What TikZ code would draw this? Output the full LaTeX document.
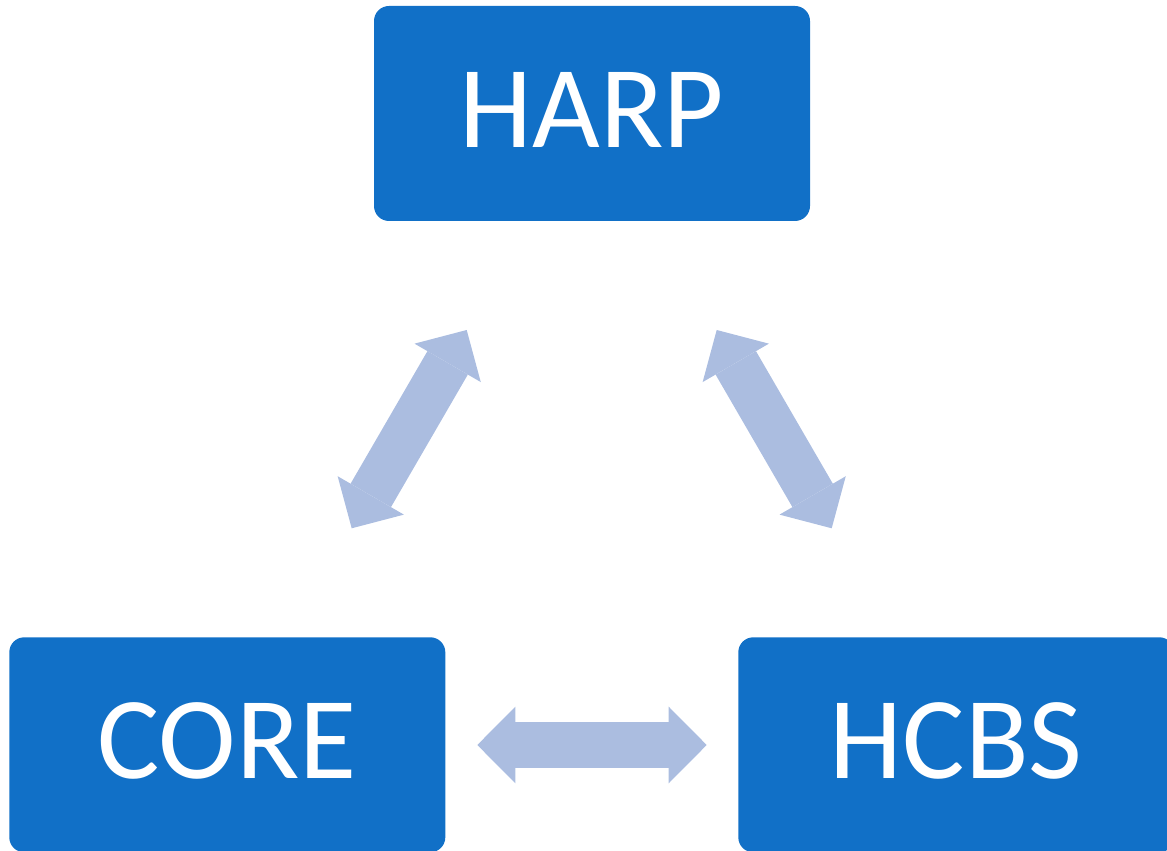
\documentclass[tikz,border=0pt]{standalone}
\usepackage{fontspec}
\setmainfont{Carlito}
\usetikzlibrary{arrows.meta}
\definecolor{boxblue}{RGB}{17,112,199}
\definecolor{linkblue}{RGB}{171,189,224}

\begin{document}
\begin{tikzpicture}[x=1pt,y=1pt,
    box/.style={rectangle,rounded corners=15pt,fill=boxblue,text=white,minimum width=436pt,minimum height=215pt,inner sep=0pt,text depth=8pt,font=\fontsize{117}{140}\selectfont},
    link/.style={draw=linkblue,line width=46.7pt,{Triangle[length=38pt,width=76.6pt,line width=0pt]}-{Triangle[length=38pt,width=76.6pt,line width=0pt]}}]
    \useasboundingbox (0,0) rectangle (1167,851);

    \node[box] (harp) at (592,737.5) {HARP};
    \node[box] (core) at (227.3,106.2) {CORE};
    \node[box] (hcbs) at (956.3,106.2) {HCBS};

    % arrow ends
    \coordinate (harpcore1) at (466.7,521);
    \coordinate (harpcore2) at (351.7,322.7);
    \coordinate (harphcbs1) at (716.7,521);
    \coordinate (harphcbs2) at (831.7,322.7);
    \coordinate (corehcbs1) at (477.3,106);
    \coordinate (corehcbs2) at (706.7,106);

    \draw[link] (harpcore1) -- (harpcore2);
    \draw[link] (harphcbs1) -- (harphcbs2);
    \draw[link] (corehcbs1) -- (corehcbs2);
\end{tikzpicture}
\end{document}
